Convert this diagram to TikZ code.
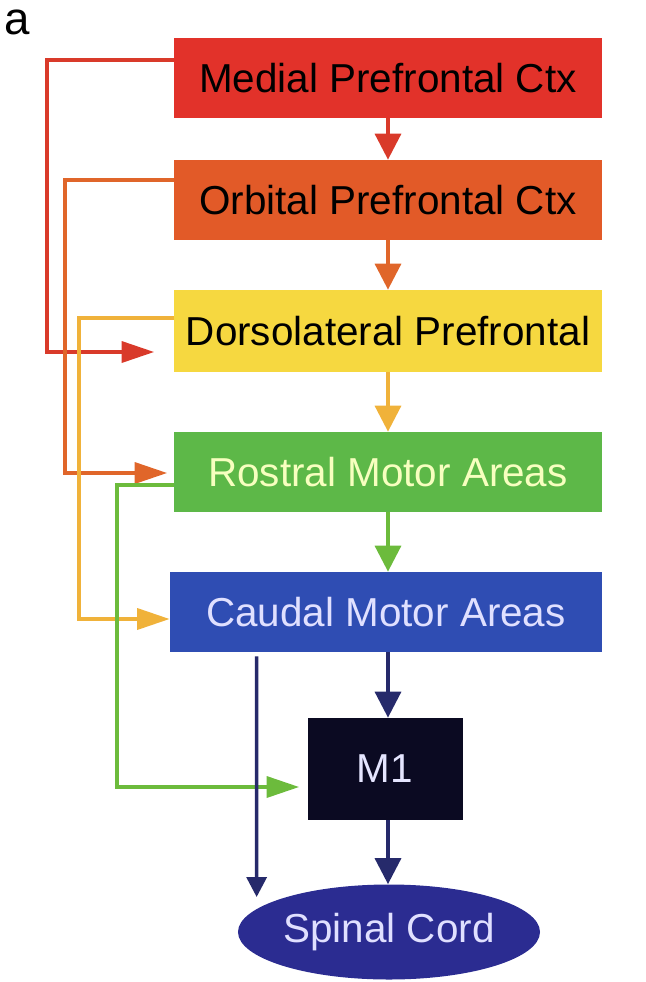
\documentclass[tikz,border=0pt]{standalone}
\usepackage{fontspec}
\setmainfont{Liberation Sans}
\usepackage{tikz}
\usetikzlibrary{positioning, arrows.meta, shapes.geometric, calc}
\definecolor{mpfcfill}{HTML}{E2322A}
\definecolor{ofcfill}{HTML}{E25A28}
\definecolor{dlfill}{HTML}{F6D840}
\definecolor{rmafill}{HTML}{5DB848}
\definecolor{cmafill}{HTML}{2F4DB3}
\definecolor{monefill}{HTML}{0B0A22}
\definecolor{scfill}{HTML}{2B2C91}
\definecolor{redlink}{HTML}{D93A2A}
\definecolor{orangelink}{HTML}{E0662A}
\definecolor{yellowlink}{HTML}{F0B23A}
\definecolor{greenlink}{HTML}{6CBB3C}
\definecolor{navylink}{HTML}{262A6B}
\tikzset{
  % --- area boxes ---
  areabox/.style={
    rectangle, minimum width=85.4mm, minimum height=16mm, inner sep=0pt,
    font=\fontsize{23}{27}\selectfont,
  },
  monebox/.style={areabox, minimum width=31mm, minimum height=20.4mm,
    fill=monefill, text=white!90!blue},
  cordnode/.style={ellipse, minimum width=60.4mm, minimum height=19mm, inner sep=0pt,
    fill=scfill, text=white!88!blue, font=\fontsize{23}{27}\selectfont},
  % --- connectors ---
  downlink/.style={-{Triangle[length=5.2mm, width=5.2mm]}, line width=2pt},
  sidelink/.style={-{Triangle[length=6.5mm, width=4.2mm]}, line width=2pt},
}

\begin{document}
\begin{tikzpicture}[x=0.2mm, y=-0.2mm]
    \useasboundingbox (0,0) rectangle (646,982);
    \node[anchor=north west, inner sep=0pt, font=\fontsize{26}{28}\selectfont] (panel) at (4,10) {a};

    % ---- Cortical areas ----
    \node[areabox, fill=mpfcfill] (mpfc) at (388,78) {Medial Prefrontal Ctx};
    \node[areabox, fill=ofcfill] (ofc) at (388,200) {Orbital Prefrontal Ctx};
    \node[areabox, fill=dlfill, minimum height=16.4mm] (dlpfc) at (388,331) {Dorsolateral Prefrontal};
    \node[areabox, fill=rmafill, text=green!12!yellow!25] (rma) at (388,472) {Rostral Motor Areas};
    \node[areabox, fill=cmafill, minimum width=86.4mm, text=white!88!blue] (cma) at (386,612) {Caudal Motor Areas};

    % ---- Output stages ----
    \node[monebox] (mone) at (385,769) {M1};
    \node[cordnode] (cord) at (389,932) {Spinal Cord};

    % ---- Serial chain ----
    \draw[downlink, redlink] (mpfc.south) -- (ofc.north);
    \draw[downlink, orangelink] (ofc.south) -- (dlpfc.north);
    \draw[downlink, yellowlink] (dlpfc.south) -- (rma.north);
    \draw[downlink, greenlink] (rma.south) -- (cma.north -| rma.south);
    \draw[downlink, navylink] (cma.south -| rma.south) -- (mone.north -| rma.south);
    \draw[downlink, navylink] (mone.south -| rma.south) -- (cord.north -| rma.south);

    % ---- Skip projections (left side) ----
    \draw[sidelink, redlink] ($(mpfc.west)+(0,-18)$) -- ++(-127,0) |- ($(dlpfc.west)+(-20,21)$);
    \draw[sidelink, orangelink] ($(ofc.west)+(0,-20)$) -- ++(-109,0) |- ($(rma.west)+(-7,1)$);
    \draw[sidelink, yellowlink] ($(dlpfc.west)+(0,-13)$) -- ++(-95,0) |- ($(cma.west)+(0,7)$);
    \draw[sidelink, greenlink] ($(rma.west)+(0,13)$) -- ++(-57,0) |- ($(mone.west)+(-8,18)$);

    % ---- Direct caudal output ----
    \coordinate (cordtip) at ($(cord.west)+(19,-35)$);
    \draw[sidelink, navylink, -{Triangle[length=4mm, width=4mm]}] ($(cma.south west)+(87,4)$) -- (cordtip);
  \end{tikzpicture}
\end{document}
